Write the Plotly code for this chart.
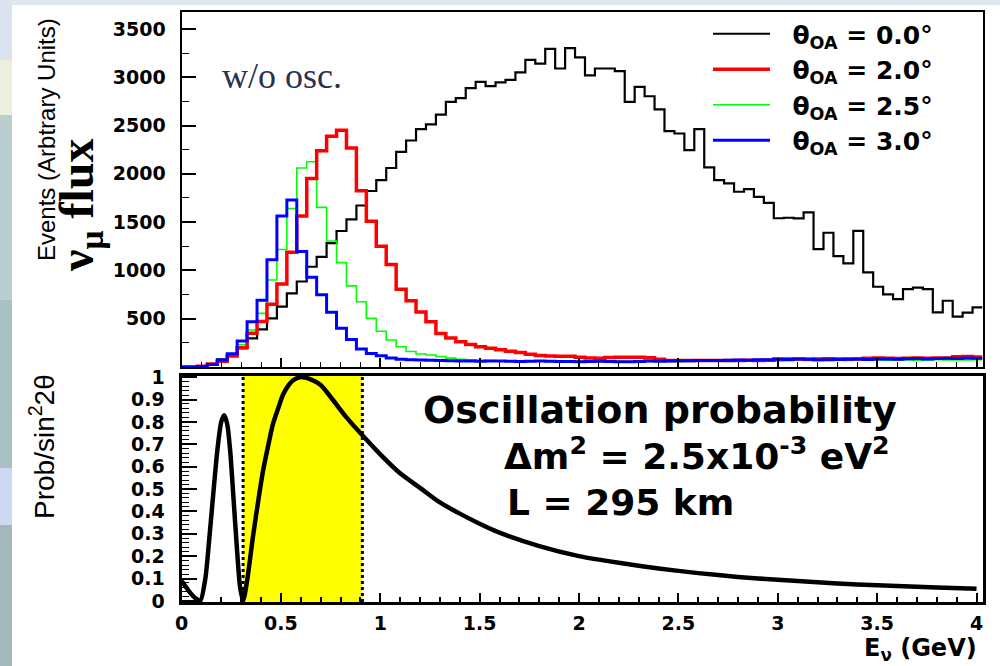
import plotly.graph_objects as go

# ---------------- data ----------------
BIN_START = -0.02      # GeV, left edge of first bin
BIN_WIDTH = 0.05       # GeV
N_BINS = 81

flux_oa00 = [0, 0, 5, 28, 80, 130, 195, 297, 390, 503,
             624, 762, 885, 1038, 1141, 1282, 1408, 1528, 1672, 1822,
             1934, 2060, 2228, 2345, 2462, 2512, 2612, 2745, 2784, 2887,
             2952, 2908, 2947, 2973, 3050, 3180, 3140, 3293, 3090, 3300,
             3205, 3018, 3090, 3090, 3062, 2745, 2900, 2803, 2666, 2441,
             2417, 2245, 2462, 2066, 1934, 1900, 1814, 1841, 1762, 1700,
             1540, 1545, 1538, 1600, 1221, 1390, 1148, 1072, 1410, 979,
             831, 752, 703, 807, 821, 807, 566, 686, 521, 562,
             617]

flux_oa20 = [0, 0, 8, 30, 60, 115, 200, 350, 470, 650,
             860, 1188, 1562, 1952, 2238, 2388, 2450, 2268, 1824, 1510,
             1250, 1060, 805, 685, 569, 469, 348, 300, 262, 232,
             210, 194, 178, 164, 150, 132, 120, 114, 112, 110,
             100, 92, 90, 98, 100, 100, 100, 96, 80, 68,
             66, 68, 66, 66, 68, 66, 68, 70, 68, 70,
             82, 84, 82, 80, 84, 86, 84, 82, 84, 90,
             92, 90, 88, 90, 92, 90, 92, 94, 106, 108,
             104]

flux_oa25 = [0, 0, 5, 28, 65, 128, 230, 383, 555, 900,
             1217, 1641, 2060, 2124, 1652, 1305, 1080, 840, 676, 503,
             370, 279, 210, 160, 135, 124, 108, 92, 80, 74,
             70, 68, 64, 62, 60, 62, 60, 58, 60, 62,
             58, 56, 58, 60, 58, 56, 55, 58, 60, 58,
             56, 58, 60, 62, 60, 58, 60, 64, 66, 64,
             62, 66, 70, 68, 66, 70, 72, 68, 70, 74,
             72, 70, 72, 74, 70, 72, 76, 74, 72, 74,
             76]

flux_oa30 = [0, 0, 5, 25, 72, 136, 268, 469, 690, 1110,
             1562, 1728, 1195, 930, 748, 568, 400, 284, 186, 140,
             116, 92, 80, 76, 73, 70, 66, 64, 62, 62,
             60, 62, 63, 60, 58, 60, 62, 60, 58, 56,
             55, 58, 60, 56, 54, 55, 58, 62, 60, 62,
             65, 64, 66, 68, 66, 70, 72, 70, 74, 76,
             80, 78, 82, 80, 76, 74, 78, 80, 82, 78,
             82, 84, 80, 86, 88, 84, 88, 90, 88, 92,
             90]

series_names = ["\u00a0\u00a0θ<sub>OA</sub> = 0.0°", "\u00a0\u00a0θ<sub>OA</sub> = 2.0°",
                "\u00a0\u00a0θ<sub>OA</sub> = 2.5°", "\u00a0\u00a0θ<sub>OA</sub> = 3.0°"]

prob_E = [0.0, 0.02, 0.04, 0.06, 0.08, 0.095, 0.12, 0.14, 0.16, 0.18,
          0.20, 0.215, 0.23, 0.245, 0.26, 0.28, 0.295, 0.31, 0.33, 0.36,
          0.39, 0.41, 0.44, 0.46, 0.49, 0.51, 0.54, 0.56, 0.60, 0.65,
          0.70, 0.76, 0.83, 0.91, 1.0, 1.1, 1.2, 1.3, 1.4, 1.5,
          1.6, 1.8, 2.0, 2.2, 2.4, 2.6, 2.8, 3.0, 3.2, 3.4,
          3.6, 3.8, 4.0]
prob_P = [0.09, 0.065, 0.04, 0.02, 0.006, 0.0, 0.1, 0.28, 0.48, 0.67,
          0.80, 0.83, 0.79, 0.67, 0.48, 0.22, 0.06, 0.0, 0.09, 0.29,
          0.47, 0.58, 0.71, 0.79, 0.87, 0.92, 0.965, 0.985, 1.0, 0.99,
          0.965, 0.90, 0.82, 0.74, 0.655, 0.57, 0.505, 0.44, 0.39, 0.345,
          0.305, 0.245, 0.20, 0.17, 0.145, 0.124, 0.107, 0.094, 0.083, 0.073,
          0.066, 0.06, 0.054]

BAND_LO, BAND_HI = 0.31, 0.91   # GeV, highlighted energy window

y_ticks_top = [500, 1000, 1500, 2000, 2500, 3000, 3500]
y_minor_top = [250, 750, 1250, 1750, 2250, 2750, 3250]

# ---------------- figure ----------------
W, H = 1000, 666
def px(x):
    return x / W
def py(y):
    return 1 - y / H

edges = [BIN_START + BIN_WIDTH * i for i in range(N_BINS + 1)]

def steps(vals):
    return edges, list(vals) + [vals[-1]]

fig = go.Figure()

draw = [  # (values, colour, width, legendrank, name)
    (flux_oa00, "#000000", 2.2, 1, series_names[0]),
    (flux_oa25, "#00ff00", 1.6, 3, series_names[2]),
    (flux_oa20, "#ff0000", 3.5, 2, series_names[1]),
    (flux_oa30, "#0000ff", 3.0, 4, series_names[3]),
]
for vals, col, w, rank, name in draw:
    xs, ys = steps(vals)
    fig.add_trace(go.Scatter(x=xs, y=ys, mode="lines", line=dict(color=col, width=w, shape="hv"),
                             name=name, legendrank=rank, xaxis="x", yaxis="y", cliponaxis=True))

fig.add_trace(go.Scatter(x=prob_E, y=prob_P, mode="lines",
                         line=dict(color="black", width=4.5, shape="spline", smoothing=0.7),
                         showlegend=False, xaxis="x2", yaxis="y2"))

XDOM = [px(181.5), px(982.5)]
XRANGE = [0, 4.03]
tickfont = dict(family="DejaVu Sans", size=19, color="black", weight="bold")

fig.update_layout(
    width=W, height=H, autosize=False,
    margin=dict(l=0, r=0, t=0, b=0, pad=0, autoexpand=False),
    paper_bgcolor="white", plot_bgcolor="white",
    showlegend=True,
    legend=dict(x=px(708), y=py(11), xanchor="left", yanchor="top",
                bgcolor="rgba(0,0,0,0)", borderwidth=0,
                font=dict(family="DejaVu Sans", size=25, color="black", weight="bold"),
                itemwidth=57, tracegroupgap=0),
    xaxis=dict(domain=XDOM, range=XRANGE, anchor="y", showticklabels=False, automargin=False,
               ticks="inside", tick0=0, dtick=0.5, ticklen=9, tickwidth=1.5, tickcolor="black",
               minor=dict(ticks="inside", dtick=0.1, ticklen=5, tickwidth=1, tickcolor="black"),
               showline=True, mirror=True, linewidth=2, linecolor="black",
               showgrid=False, zeroline=False),
    yaxis=dict(domain=[py(367), py(12)], range=[0, 3675], anchor="x", automargin=False,
               tickmode="array", tickvals=y_ticks_top, ticks="inside", ticklen=14,
               tickwidth=1.5, tickcolor="black", tickfont=tickfont, ticklabelstandoff=10,
               minor=dict(ticks="inside", tickvals=y_minor_top, ticklen=7, tickwidth=1, tickcolor="black"),
               showline=True, mirror=True, linewidth=2, linecolor="black",
               showgrid=False, zeroline=False),
    xaxis2=dict(domain=XDOM, range=XRANGE, anchor="y2", automargin=False,
                ticks="inside", tick0=0, dtick=0.5, ticklen=9, tickwidth=2, tickcolor="black",
                tickfont=tickfont, ticklabelstandoff=2,
                minor=dict(ticks="inside", dtick=0.1, ticklen=5, tickwidth=1.5, tickcolor="black"),
                showline=True, mirror=True, linewidth=3, linecolor="black",
                showgrid=False, zeroline=False),
    yaxis2=dict(domain=[py(602), py(376)], range=[-0.005, 1.005], anchor="x2", automargin=False,
                tick0=0, dtick=0.1, ticks="inside", ticklen=15, tickwidth=2, tickcolor="black",
                tickfont=tickfont, ticklabelstandoff=10,
                minor=dict(ticks="inside", dtick=0.02, ticklen=7, tickwidth=1.2, tickcolor="black"),
                showline=True, mirror=True, linewidth=3, linecolor="black",
                showgrid=False, zeroline=False),
)

# highlighted window in the lower panel
fig.add_shape(type="rect", xref="x2", yref="y2 domain", x0=BAND_LO, x1=BAND_HI, y0=0, y1=1,
              fillcolor="#ffff00", line=dict(width=0), layer="below")
for xv in (BAND_LO, BAND_HI):
    fig.add_shape(type="line", xref="x2", yref="y2 domain", x0=xv, x1=xv, y0=0, y1=1,
                  line=dict(color="black", width=3, dash="dot"), layer="above")

# slide background pieces around the picture
bg = [
    (0, 0, 1000, 5, "#dfe7f3"),
    (0, 0, 12, 60, "#dbe3f0"),
    (0, 60, 12, 115, "#eeeedc"),
    (0, 115, 12, 300, "#b9cfcf"),
    (0, 300, 12, 468, "#a9c1c3"),
    (0, 468, 12, 525, "#cdd9f2"),
    (0, 525, 12, 666, "#a3b8b9"),
]
for x0, y0, x1, y1, c in bg:
    fig.add_shape(type="rect", xref="paper", yref="paper", x0=px(x0), x1=px(x1), y0=py(y1), y1=py(y0),
                  fillcolor=c, line=dict(width=0), layer="below")

ann = [
    dict(text="Events (Arbtrary Units)", x=px(46), y=py(140), textangle=-90,
         font=dict(family="Liberation Sans", size=24, color="black")),
    dict(text="ν<sub>μ</sub> flux", x=px(80), y=py(205), textangle=-90,
         font=dict(family="Liberation Serif", size=48, color="black", weight="bold")),
    dict(text="w/o osc.", x=px(220), y=py(76), xanchor="left",
         font=dict(family="Liberation Serif", size=36, color="#2d2f52")),
    dict(text="Prob/sin<sup>2</sup>2θ", x=px(42), y=py(447), textangle=-90,
         font=dict(family="Liberation Sans", size=28, color="black")),
    dict(text="E<sub>ν</sub> (GeV)", x=px(979), y=py(649), xanchor="right",
         font=dict(family="DejaVu Sans", size=24, color="black", weight="bold")),
    dict(text="Oscillation probability", x=px(421), y=py(410), xanchor="left",
         font=dict(family="DejaVu Sans", size=38, color="black", weight="bold")),
    dict(text="Δm<sup>2</sup> = 2.5x10<sup>-3</sup> eV<sup>2</sup>", x=px(502), y=py(454), xanchor="left",
         font=dict(family="DejaVu Sans", size=36, color="black", weight="bold")),
    dict(text="L = 295 km", x=px(505), y=py(502), xanchor="left",
         font=dict(family="DejaVu Sans", size=36, color="black", weight="bold")),
]
for a in ann:
    a.setdefault("xanchor", "center")
    fig.add_annotation(xref="paper", yref="paper", showarrow=False, yanchor="middle", **a)

fig.write_html("out.html", config={"displayModeBar": False},
               post_script="document.body.style.margin='0';document.body.style.overflow='hidden';")
